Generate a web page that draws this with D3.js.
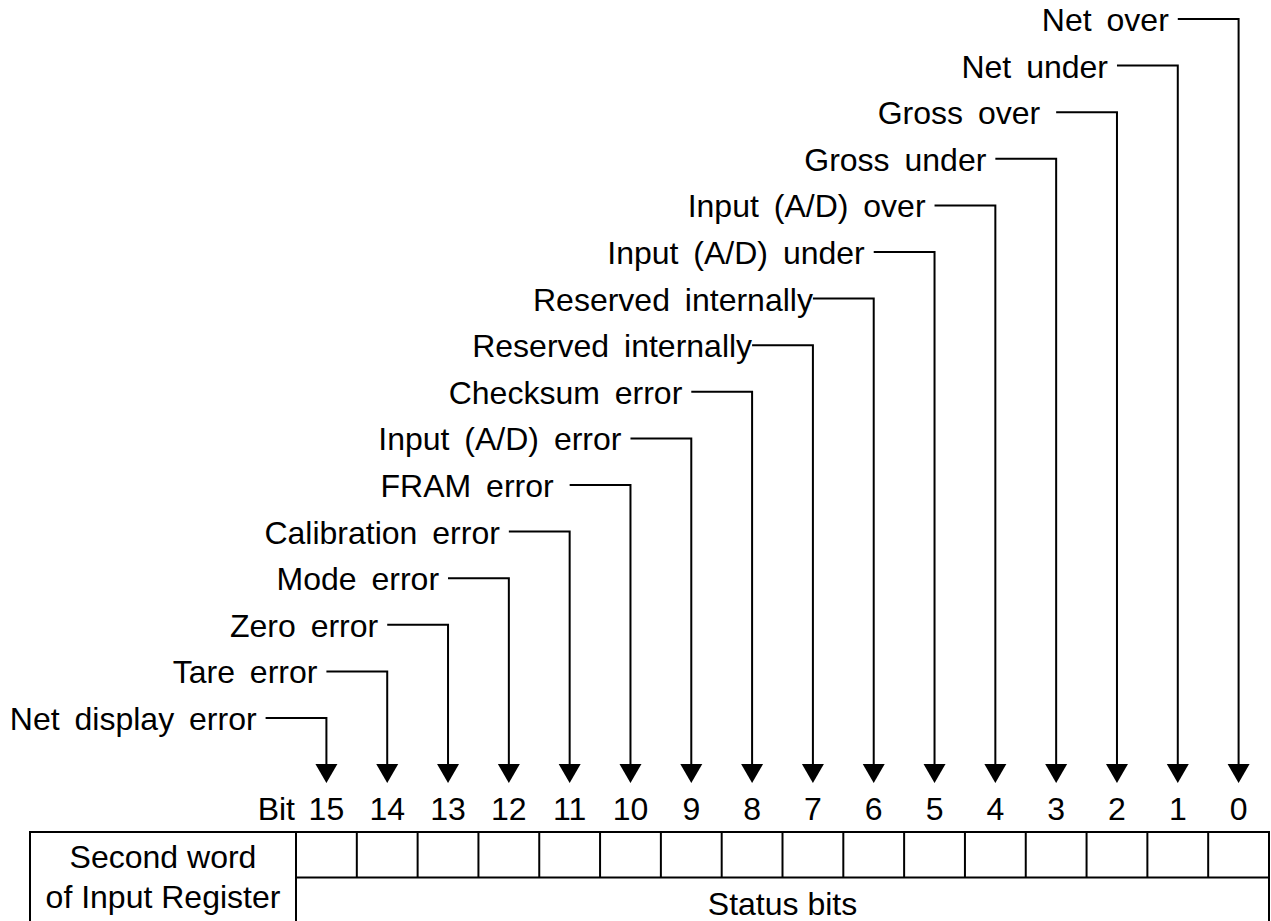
<!DOCTYPE html>
<html>
<head>
<meta charset="utf-8">
<script src="https://cdn.jsdelivr.net/npm/d3@7"></script>
<style>
  body { margin: 0; background: #fff; overflow: hidden; }
  svg { display: block; }
  svg text { font-family: "Liberation Sans", Arial, sans-serif; fill: #000; }
</style>
</head>
<body>
<div id="chart"></div>
<script>
// bit numbers, left to right as drawn in the register
const bits = d3.range(15, -1, -1)

// what each status bit means, indexed by bit number
const bitLabels = [
  "Net over",
  "Net under",
  "Gross over ",
  "Gross under",
  "Input (A/D) over",
  "Input (A/D) under",
  "Reserved internally",
  "Reserved internally",
  "Checksum error",
  "Input (A/D) error",
  "FRAM error ",
  "Calibration error",
  "Mode error",
  "Zero error",
  "Tare error",
  "Net display error"
]

const registerName = ["Second word", "of Input Register"]
const fieldName = "Status bits"
const bitPrefix = "Bit"

const width = 1271, height = 921
const fontSize = 32

const svg = d3.select("#chart").append("svg")
  .attr("width", width)
  .attr("height", height)
  .attr("viewBox", `0 0 ${width} ${height}`)

// columns of the register table
const x = d3.scaleBand()
  .domain(bits)
  .range([296, 1269])
  .padding(0)
const cx = b => x(b) + x.bandwidth() / 2

// rows of the labels, bit 0 at the top
const y = d3.scalePoint()
  .domain(d3.range(0, 16))
  .range([19, 718])

// table runs off the bottom of the picture
const tableTop = 832, tableMid = 877.5, tableBottom = 935, tableLeft = 30
const arrowTop = 764, arrowTip = 783

const ink = "#000"
const sw = 2

// connectors: horizontal from label to the column, then down to the arrow
const leaders = svg.append("g").attr("class", "leaders")
  .attr("fill", "none")
  .attr("stroke", ink)
  .attr("stroke-width", sw)

leaders.selectAll("path")
  .data(bits)
  .join("path")
    .attr("d", b => {
      const x0 = cx(b) - x.bandwidth()
      return `M${x0},${y(b)}H${cx(b)}V${arrowTop}`
    })

svg.append("g").attr("class", "heads")
  .selectAll("path")
  .data(bits)
  .join("path")
    .attr("d", b => `M${cx(b) - 11},${arrowTop}L${cx(b) + 11},${arrowTop}L${cx(b)},${arrowTip}Z`)
    .attr("fill", ink)

// labels
const gapFor = label => {
  if (label.endsWith(" ")) return 16
  if (label.startsWith("Reserved")) return 0
  return 9
}

svg.append("g").attr("class", "labels")
  .selectAll("text")
  .data(bits)
  .join("text")
    .attr("x", b => cx(b) - x.bandwidth() - gapFor(bitLabels[b]))
    .attr("y", b => y(b) + 12)
    .attr("text-anchor", "end")
    .attr("font-size", fontSize)
    .attr("word-spacing", 6)
    .text(b => bitLabels[b].trim())

// bit numbers
svg.append("g").attr("class", "bitnums")
  .selectAll("text")
  .data(bits)
  .join("text")
    .attr("x", b => cx(b))
    .attr("y", 820)
    .attr("text-anchor", "middle")
    .attr("font-size", fontSize)
    .text(b => b)

svg.append("text")
  .attr("x", 295)
  .attr("y", 820)
  .attr("text-anchor", "end")
  .attr("font-size", fontSize)
  .text(bitPrefix)

// register table
const table = svg.append("g").attr("class", "table")
  .attr("fill", "none")
  .attr("stroke", ink)
  .attr("stroke-width", sw)

table.append("rect")
  .attr("x", tableLeft)
  .attr("y", tableTop)
  .attr("width", x.range()[1] - tableLeft)
  .attr("height", tableBottom - tableTop)

table.append("line")
  .attr("x1", x.range()[0]).attr("x2", x.range()[0])
  .attr("y1", tableTop).attr("y2", tableBottom)

table.append("line")
  .attr("x1", x.range()[0]).attr("x2", x.range()[1])
  .attr("y1", tableMid).attr("y2", tableMid)

table.selectAll("line.cell")
  .data(bits.slice(1))
  .join("line")
    .attr("class", "cell")
    .attr("x1", b => x(b)).attr("x2", b => x(b))
    .attr("y1", tableTop).attr("y2", tableMid)

svg.append("g").attr("class", "regname")
  .selectAll("text")
  .data(registerName)
  .join("text")
    .attr("x", (tableLeft + x.range()[0]) / 2)
    .attr("y", (d, i) => 868 + i * 40)
    .attr("text-anchor", "middle")
    .attr("font-size", fontSize)
    .text(d => d)

svg.append("text")
  .attr("x", (x.range()[0] + x.range()[1]) / 2)
  .attr("y", 915)
  .attr("text-anchor", "middle")
  .attr("font-size", fontSize)
  .text(fieldName)
</script>
</body>
</html>
